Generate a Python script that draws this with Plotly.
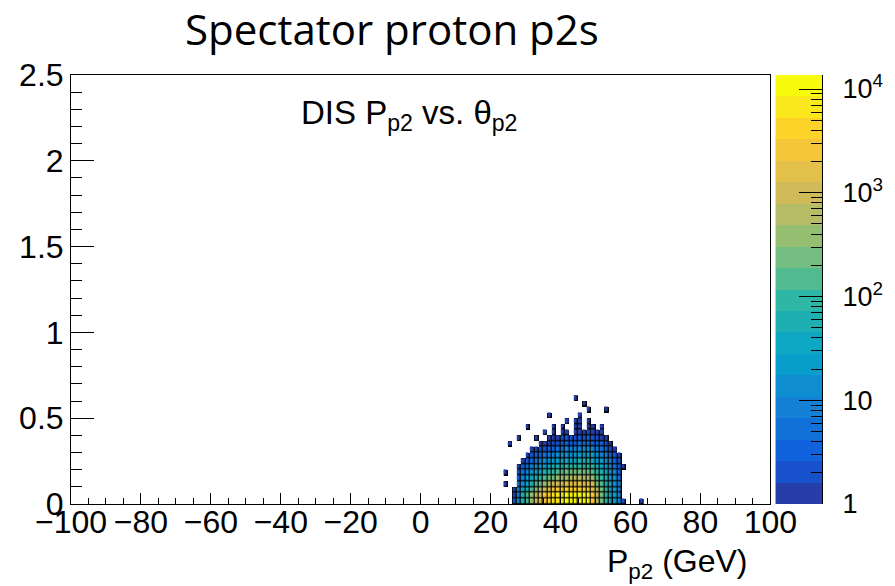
import numpy as np
import plotly.graph_objects as go

# ---------------- data ----------------
# 2D histogram binning (P_p2 in GeV, theta_p2)
x_bin_lo, x_bin_w, n_xbins = 23.75, 1.25, 32
y_bin_lo, y_bin_w, n_ybins = 0.0, 1.0 / 30.0, 19

# counts[r][c] : r = theta bin (from 0 upward), c = P bin (from 23.75 GeV)
counts = [
    [0, 0, 2, 12, 60, 150, 350, 800, 1600, 2800, 4200, 5500, 7000, 8500, 9500, 10500, 11000, 11000, 10500, 9000, 2500, 700, 220, 100, 40, 18, 9, 2, 0, 0, 0, 1],
    [0, 0, 1, 10, 50, 130, 320, 750, 1500, 2600, 4000, 5300, 6800, 8200, 9300, 10300, 10800, 10800, 10300, 8800, 2600, 800, 260, 110, 45, 20, 10, 0, 0, 0, 0, 0],
    [0, 0, 1, 8, 30, 70, 160, 350, 700, 1100, 1600, 2100, 2600, 3000, 3400, 3700, 3900, 4000, 3900, 3500, 1500, 500, 200, 90, 40, 18, 8, 0, 0, 0, 0, 0],
    [1, 0, 0, 5, 16, 35, 70, 140, 260, 420, 600, 800, 1000, 1150, 1300, 1400, 1500, 1550, 1500, 1400, 800, 300, 140, 70, 32, 15, 7, 0, 0, 0, 0, 0],
    [0, 0, 0, 4, 9, 18, 32, 60, 100, 160, 230, 300, 370, 430, 480, 520, 560, 580, 580, 560, 380, 170, 90, 48, 24, 12, 6, 0, 0, 0, 0, 0],
    [1, 0, 0, 2, 5, 9, 15, 26, 42, 65, 90, 115, 140, 165, 190, 210, 225, 235, 240, 235, 180, 100, 55, 32, 17, 9, 4, 0, 0, 0, 0, 0],
    [0, 0, 0, 1, 3, 5, 8, 12, 18, 28, 38, 48, 60, 70, 80, 90, 100, 105, 110, 110, 90, 55, 32, 20, 11, 6, 3, 1, 0, 0, 0, 0],
    [0, 0, 0, 0, 1, 3, 4, 6, 8, 12, 16, 20, 25, 30, 35, 40, 44, 48, 50, 50, 42, 28, 18, 12, 7, 4, 2, 0, 0, 0, 0, 0],
    [0, 0, 0, 0, 0, 1, 2, 3, 4, 5, 7, 9, 11, 13, 15, 17, 19, 21, 23, 24, 20, 14, 10, 7, 4, 2, 1, 0, 0, 0, 0, 0],
    [0, 0, 0, 0, 0, 0, 1, 1, 2, 2, 3, 4, 5, 6, 7, 8, 9, 10, 11, 11, 9, 7, 5, 4, 2, 1, 0, 0, 0, 0, 0, 0],
    [0, 1, 0, 0, 0, 0, 0, 0, 1, 1, 1, 2, 2, 3, 3, 4, 4, 5, 5, 5, 4, 3, 3, 2, 1, 0, 0, 0, 0, 0, 0, 0],
    [0, 0, 0, 1, 0, 0, 0, 1, 0, 0, 1, 1, 1, 2, 2, 2, 2, 2, 2, 3, 2, 2, 1, 1, 0, 0, 0, 0, 0, 0, 0, 0],
    [0, 0, 0, 0, 0, 0, 0, 0, 0, 1, 0, 1, 0, 1, 1, 0, 1, 1, 1, 2, 1, 1, 1, 0, 0, 0, 0, 0, 0, 0, 0, 0],
    [0, 0, 0, 0, 0, 1, 0, 0, 0, 0, 0, 1, 0, 1, 0, 0, 1, 1, 0, 1, 1, 0, 1, 0, 0, 0, 0, 0, 0, 0, 0, 0],
    [0, 0, 0, 0, 0, 0, 0, 0, 0, 0, 0, 0, 0, 0, 1, 0, 1, 1, 0, 1, 0, 0, 0, 0, 0, 0, 0, 0, 0, 0, 0, 0],
    [0, 0, 0, 0, 0, 0, 0, 0, 0, 0, 1, 0, 0, 0, 0, 0, 0, 1, 0, 0, 0, 0, 0, 0, 0, 0, 0, 0, 0, 0, 0, 0],
    [0, 0, 0, 0, 0, 0, 0, 0, 0, 0, 0, 0, 0, 0, 0, 0, 0, 0, 0, 1, 0, 0, 0, 1, 0, 0, 0, 0, 0, 0, 0, 0],
    [0, 0, 0, 0, 0, 0, 0, 0, 0, 0, 0, 0, 0, 0, 0, 0, 0, 0, 1, 0, 0, 0, 0, 0, 0, 0, 0, 0, 0, 0, 0, 0],
    [0, 0, 0, 0, 0, 0, 0, 0, 0, 0, 0, 0, 0, 0, 0, 0, 1, 0, 0, 0, 0, 0, 0, 0, 0, 0, 0, 0, 0, 0, 0, 0],
]

x_range = [-100, 100]
y_range = [0, 2.5]
z_log_range = [0.0, 4.135]      # colour axis: 1 .. ~1.36e4 (log10)
n_contours = 20

cbar_tickvals = [0, 1, 2, 3, 4]
cbar_ticktext = ["1", "10", "10<sup>2</sup>", "10<sup>3</sup>", "10<sup>4</sup>"]

title_text = "Spectator proton p2s"
inner_text = "DIS P<sub>p2</sub> vs. θ<sub>p2</sub>"
xtitle_text = "P<sub>p2</sub> (GeV)"

# ---------------- styling helpers ----------------
bird_stops = [0.0, 0.125, 0.25, 0.375, 0.5, 0.625, 0.75, 0.875, 1.0]
bird_r = [0.2082, 0.0592, 0.0780, 0.0232, 0.1802, 0.5301, 0.8186, 0.9956, 0.9764]
bird_g = [0.1664, 0.3599, 0.5041, 0.6419, 0.7178, 0.7492, 0.7328, 0.7862, 0.9832]
bird_b = [0.5293, 0.8684, 0.8385, 0.7914, 0.6425, 0.4662, 0.3499, 0.1968, 0.0539]


def bird(p):
    r = np.interp(p, bird_stops, bird_r)
    g = np.interp(p, bird_stops, bird_g)
    b = np.interp(p, bird_stops, bird_b)
    return "rgb(%d,%d,%d)" % (round(r * 255), round(g * 255), round(b * 255))


colorscale = []
for k in range(n_contours):
    idx = int((k + 0.99) * 255.0 / n_contours)
    col = bird(min(idx, 254) / 254.0)
    colorscale.append([k / n_contours, col])
    colorscale.append([(k + 1) / n_contours, col])

cnt = np.array(counts, dtype=float)
zlog = np.where(cnt > 0, np.log10(np.where(cnt > 0, cnt, 1)), np.nan)
zmask = np.where(cnt > 0, 1.0, np.nan)
x_edges = x_bin_lo + x_bin_w * np.arange(n_xbins + 1)
y_edges = y_bin_lo + y_bin_w * np.arange(n_ybins + 1)

# pixel layout
W, H = 895, 586
L, R, T, B = 71, 68, 75, 82
paper_w = W - L - R
paper_h = H - T - B
frame_right = 775
cbar_left = 780

FONT = "Liberation Sans, Arial, Helvetica, sans-serif"

fig = go.Figure()

# black under-layer -> cell borders
fig.add_trace(go.Heatmap(
    x=x_edges, y=y_edges, z=zmask, colorscale=[[0, "black"], [1, "black"]],
    zmin=0, zmax=1, showscale=False, hoverinfo="skip", xaxis="x", yaxis="y"))
fig.add_trace(go.Heatmap(
    x=x_edges, y=y_edges, z=zlog, colorscale=colorscale,
    zmin=z_log_range[0], zmax=z_log_range[1], showscale=False,
    xgap=1.2, ygap=1.2, xaxis="x", yaxis="y",
    customdata=cnt, hovertemplate="P=%{x}<br>θ=%{y}<br>N=%{customdata}<extra></extra>"))

# palette (colour bar) drawn on its own axis
band_edges = np.linspace(z_log_range[0], z_log_range[1], n_contours + 1)
band_mid = 0.5 * (band_edges[:-1] + band_edges[1:])
fig.add_trace(go.Heatmap(
    x=[0, 1], y=band_edges, z=band_mid.reshape(-1, 1), colorscale=colorscale,
    zmin=z_log_range[0], zmax=z_log_range[1], showscale=False,
    hoverinfo="skip", xaxis="x2", yaxis="y2"))

minor_vals = [d + np.log10(m) for d in range(0, 5) for m in range(2, 10)
              if d + np.log10(m) <= z_log_range[1]]

fig.update_layout(
    width=W, height=H,
    margin=dict(l=L, r=R, t=T, b=B, pad=0),
    paper_bgcolor="white", plot_bgcolor="white",
    showlegend=False,
    font=dict(family=FONT, color="black"),
    xaxis=dict(
        domain=[0, (frame_right - L) / paper_w], range=x_range,
        tickmode="linear", tick0=-100, dtick=20,
        ticks="inside", ticklen=11, tickwidth=1, tickcolor="black",
        minor=dict(dtick=5, ticks="inside", ticklen=6, tickcolor="black", tickwidth=1),
        showline=True, linecolor="black", linewidth=1, mirror=True,
        showgrid=False, zeroline=False,
        tickfont=dict(size=32, family=FONT), ticklabelstandoff=-10,
    ),
    yaxis=dict(
        domain=[0, 1], range=y_range, anchor="x",
        tickmode="linear", tick0=0, dtick=0.5,
        ticks="inside", ticklen=23, tickwidth=1, tickcolor="black",
        minor=dict(dtick=0.1, ticks="inside", ticklen=11, tickcolor="black", tickwidth=1),
        showline=True, linecolor="black", linewidth=1, mirror=True,
        showgrid=False, zeroline=False,
        tickfont=dict(size=32, family=FONT), ticklabelstandoff=0,
    ),
    xaxis2=dict(
        domain=[(cbar_left - L) / paper_w, 1], range=[0, 1], anchor="y2",
        showticklabels=False, ticks="", showgrid=False, zeroline=False, showline=False,
    ),
    yaxis2=dict(
        domain=[0, 1], range=z_log_range, anchor="x2", side="right",
        tickmode="array", tickvals=cbar_tickvals, ticktext=cbar_ticktext,
        ticks="inside", ticklen=23, tickwidth=1, tickcolor="black",
        minor=dict(tickvals=minor_vals, ticks="inside", ticklen=11,
                   tickcolor="black", tickwidth=1),
        showline=True, linecolor="black", linewidth=1,
        showgrid=False, zeroline=False,
        tickfont=dict(size=27, family=FONT), ticklabelstandoff=14,
    ),
    annotations=[
        dict(text=title_text, xref="paper", yref="paper",
             x=(394 - L) / paper_w, y=(T + paper_h - 28) / paper_h,
             xanchor="center", yanchor="middle", showarrow=False,
             font=dict(family="Open Sans, Lato, sans-serif", size=42, color="black")),
        dict(text=inner_text, xref="paper", yref="paper",
             x=(301 - L) / paper_w, y=(T + paper_h - 115) / paper_h,
             xanchor="left", yanchor="middle", showarrow=False,
             font=dict(family=FONT, size=33, color="black")),
        dict(text=xtitle_text, xref="paper", yref="paper",
             x=(754 - L) / paper_w, y=(T + paper_h - 563) / paper_h,
             xanchor="right", yanchor="middle", showarrow=False,
             font=dict(family=FONT, size=32, color="black")),
    ],
)

fig.write_html("out.html")
